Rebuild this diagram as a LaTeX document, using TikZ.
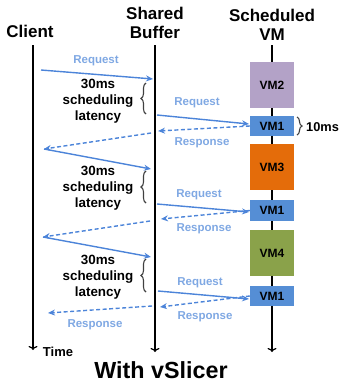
\documentclass[tikz,border=0pt]{standalone}
\usepackage{fontspec}
\setmainfont{Liberation Sans}
\usetikzlibrary{arrows.meta,decorations.pathreplacing}
\definecolor{arr}{HTML}{4C84D9}
\definecolor{lbl}{HTML}{7FA8E3}
\definecolor{vmpurple}{HTML}{B3A2C7}
\definecolor{vmblue}{HTML}{558ED5}
\definecolor{vmorange}{HTML}{E46C0A}
\definecolor{vmgreen}{HTML}{8AA24A}
\definecolor{brc}{HTML}{404040}
\begin{document}
\begin{tikzpicture}[x=1pt,y=-1pt,
  title/.style={font=\bfseries\fontsize{17}{19}\selectfont, align=center, inner sep=0pt},
  tline/.style={line width=1.3pt, -{To[length=4pt,width=9pt,line width=1.2pt]}},
  vmbox/.style={draw=none, minimum width=44pt, inner sep=0pt, font=\bfseries\fontsize{12}{14}\selectfont},
  req/.style={arr, line width=1.4pt, -{Stealth[length=7pt,width=6pt]}},
  resp/.style={arr, line width=1.4pt, dash pattern=on 4pt off 2.5pt, -{Stealth[length=7pt,width=6pt]}},
  lab/.style={lbl, font=\bfseries\fontsize{11.5}{13}\selectfont, inner sep=0pt},
  lat/.style={font=\bfseries\fontsize{13.4}{16}\selectfont, align=center, inner sep=0pt},
  brace/.style={brc, line width=1.1pt, decorate, decoration={brace, amplitude=5pt}}
]
\useasboundingbox (0,0) rectangle (341,386);

% titles
\node[title] (tc) at (30,31) {Client};
\node[title] (tb) at (155,23) {Shared\\Buffer};
\node[title] (tv) at (272,25) {Scheduled\\VM};

% timelines
\coordinate (c0) at (33,45);  \coordinate (c1) at (33,350);
\coordinate (b0) at (155,45); \coordinate (b1) at (155,352);
\coordinate (v0) at (272,45); \coordinate (v1) at (272,352);
\draw[tline] (c0) -- (c1);
\draw[tline] (b0) -- (b1);
\draw[tline] (v0) -- (v1);

% VM boxes
\node[vmbox, fill=vmpurple, minimum height=46pt] (vm2) at (272,85) {VM2};
\node[vmbox, fill=vmblue, minimum height=20pt] (vm1a) at (272,126) {VM1};
\node[vmbox, fill=vmorange, minimum height=46pt] (vm3) at (272,167) {VM3};
\node[vmbox, fill=vmblue, minimum height=21pt] (vm1b) at (272,210.5) {VM1};
\node[vmbox, fill=vmgreen, minimum height=46pt] (vm4) at (272,253) {VM4};
\node[vmbox, fill=vmblue, minimum height=20pt] (vm1c) at (272,296) {VM1};

% 10ms brace
\draw[brace] (297,117) -- (297,135);
\node[font=\bfseries\fontsize{12.8}{14}\selectfont, anchor=west, inner sep=0pt] (t10) at (306,127) {10ms};

% round 1
\coordinate (p1) at (41,70);  \coordinate (q1) at (153,79);
\coordinate (p2) at (157,115); \coordinate (q2) at (249,124);
\coordinate (q3) at (158,131);
\coordinate (p4) at (151,133); \coordinate (q4) at (44,149);
\draw[req] (p1) -- (q1);
\node[lab] (l1) at (96,61) {Request};
\draw[brace] (146,114) -- (146,83);
\node[lat] (lat1) at (98,101) {30ms\\scheduling\\latency};
\draw[req] (p2) -- (q2);
\node[lab] (l2) at (197,103) {Request};
\draw[resp] (vm1a.west) -- (q3);
\node[lab] (l3) at (202,143) {Response};
\draw[resp] (p4) -- (q4);

% round 2
\coordinate (q5) at (151,169);
\coordinate (p6) at (157,204); \coordinate (q6) at (249,212);
\coordinate (q7) at (161,219);
\coordinate (p8) at (150,221); \coordinate (q8) at (43,237);
\draw[req] (q4) -- (q5);
\draw[brace] (146,203) -- (146,171);
\node[lat] (lat2) at (98,188) {30ms\\scheduling\\latency};
\draw[req] (p6) -- (q6);
\node[lab] (l6) at (199,195) {Request};
\draw[resp] (vm1b.west) -- (q7);
\node[lab] (l7) at (204,229) {Response};
\draw[resp] (p8) -- (q8);

% round 3
\coordinate (q9) at (151,257);
\coordinate (p10) at (158,291); \coordinate (q10) at (249,299);
\coordinate (q11) at (160,307);
\coordinate (p12) at (152,306); \coordinate (q12) at (48,313);
\draw[req] (q8) -- (q9);
\draw[brace] (146,292) -- (146,259);
\node[lat] (lat3) at (98,277) {30ms\\scheduling\\latency};
\draw[req] (p10) -- (q10);
\node[lab] (l10) at (200,283) {Request};
\draw[resp] (vm1c.west) -- (q11);
\node[lab] (l11) at (205,317) {Response};
\draw[resp] (p12) -- (q12);
\node[lab] (l12) at (95,325) {Response};

% bottom
\node[font=\bfseries\fontsize{13}{15}\selectfont, inner sep=0pt] (time) at (58,352) {Time};
\node[font=\bfseries\fontsize{23.3}{26}\selectfont, inner sep=0pt] (ttl) at (161,370) {With vSlicer};
\end{tikzpicture}
\end{document}
